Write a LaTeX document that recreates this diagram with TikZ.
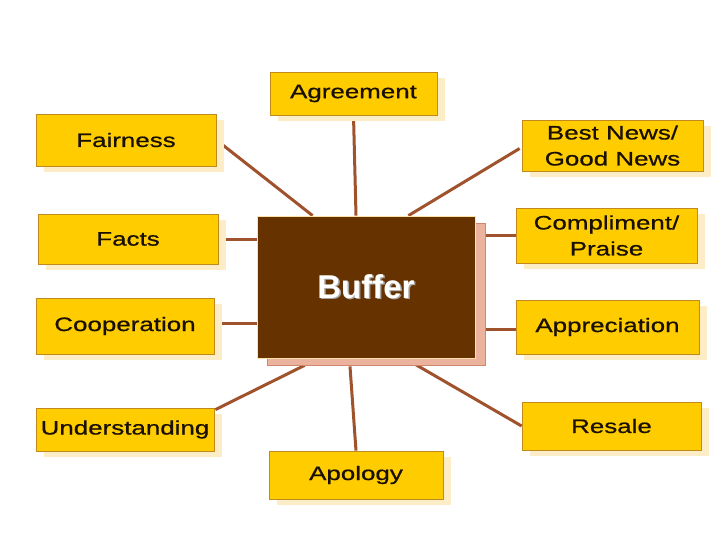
\documentclass[tikz,border=0pt]{standalone}
\usepackage{fontspec}
\setmainfont{Liberation Sans}
\newfontfamily\boxfont{Liberation Sans}[FakeStretch=1.33, FakeBold=0.7]
\usetikzlibrary{calc,shadows}

\definecolor{gold}{HTML}{FFCC00}
\definecolor{goldline}{HTML}{C08A1E}
\definecolor{cream}{HTML}{FCEDC6}
\definecolor{bufbrown}{HTML}{663300}
\definecolor{bufline}{HTML}{FFE3A6}
\definecolor{bufshade}{HTML}{EBB39D}
\definecolor{bufshadeline}{HTML}{D3866C}
\definecolor{link}{HTML}{A0522D}
\definecolor{ink}{HTML}{1A1000}

\pgfdeclarelayer{background}
\pgfsetlayers{background,main}

\begin{document}
\begin{tikzpicture}[
    x=1pt, y=-1pt,
    item/.style={draw=goldline, line width=0.8pt, fill=gold, inner sep=0pt,
        align=center, text=ink, font=\boxfont\fontsize{19.5}{26}\selectfont,
        drop shadow={fill=cream, opacity=1, shadow xshift=8pt, shadow yshift=-6pt}},
    buffer/.style={draw=bufline, line width=0.8pt, fill=bufbrown, inner sep=0pt,
        text=white, font=\bfseries\fontsize{33}{40}\selectfont,
        drop shadow={fill=bufshade, draw=bufshadeline, opacity=1,
            shadow xshift=10pt, shadow yshift=-7pt}},
    spoke/.style={draw=link, line width=3pt},
]
\useasboundingbox (0,0) rectangle (720,540);

% centre box
\node[buffer, minimum width=218pt, minimum height=142pt] (buf) at (366,287)
    {\rlap{\hspace{1.5pt}\raisebox{-1.5pt}{\color{black!35}Buffer}}Buffer};

% left column
\node[item, minimum width=180pt, minimum height=52pt] (fair) at (126,140) {Fairness};
\node[item, minimum width=180pt, minimum height=50pt] (facts) at (128,239) {Facts};
\node[item, minimum width=178pt, minimum height=56pt] (coop) at (125,326) {Cooperation};
\node[item, minimum width=178pt, minimum height=43pt] (under) at (125,429.5) {Understanding};

% right column
\node[item, minimum width=181pt, minimum height=51pt] (best) at (612.5,145.5) {Best News/\\Good News};
\node[item, minimum width=181pt, minimum height=55pt] (compl) at (606.5,235.5) {Compliment/\\Praise};
\node[item, minimum width=183pt, minimum height=54pt] (appr) at (607.5,327) {Appreciation};
\node[item, minimum width=179pt, minimum height=48pt] (resale) at (611.5,426) {Resale};

% top and bottom
\node[item, minimum width=167pt, minimum height=43pt] (agree) at (353.5,93.5) {Agreement};
\node[item, minimum width=174pt, minimum height=48pt] (apol) at (356,475) {Apology};

% spokes, behind the boxes
\begin{pgfonlayer}{background}
\draw[spoke] (agree.south) -- ($(buf.north)+(-10,0)$);
\draw[spoke] (fair.east) -- ($(buf.north west)+(56,0)$);
\draw[spoke] ($(best.west)+(-2,3)$) -- ($(buf.north east)+(-67,0)$);
\draw[spoke] (facts.east) -- (facts.east -| buf.west);
\draw[spoke] (compl.west) -- (compl.west -| buf.east);
\draw[spoke] ($(coop.east)+(0,-3)$) -- ($(coop.east -| buf.west)+(0,-3)$);
\draw[spoke] ($(appr.west)+(0,2)$) -- ($(appr.west -| buf.east)+(0,2)$);
\draw[spoke] ($(under.north east)+(1,2)$) -- ($(buf.south west)+(48,7)$);
\draw[spoke] (resale.west) -- ($(buf.south east)+(-67,2)$);
\draw[spoke] (apol.north) -- ($(buf.south)+(-16,8)$);
\end{pgfonlayer}

\end{tikzpicture}
\end{document}
